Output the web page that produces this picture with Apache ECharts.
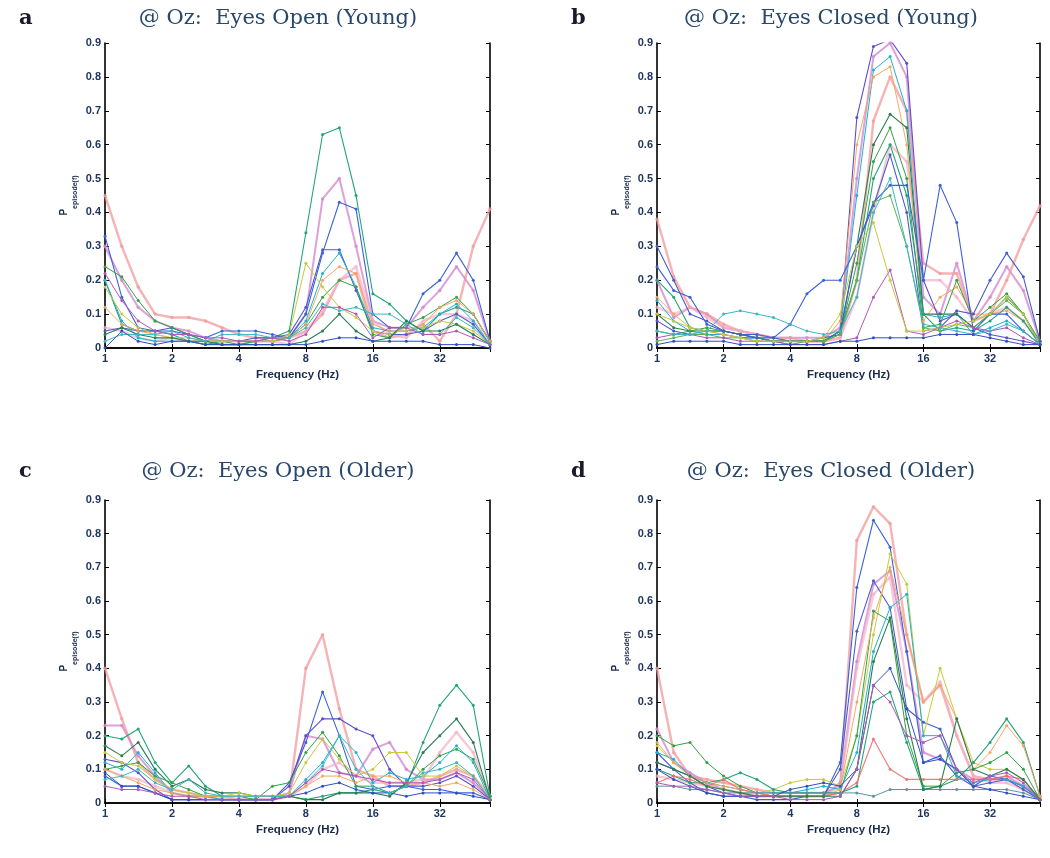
<!DOCTYPE html>
<html><head><meta charset="utf-8">
<script src="https://cdn.jsdelivr.net/npm/echarts@6/dist/echarts.min.js"></script>
<style>html,body{margin:0;background:#fff}#c{width:1050px;height:858px}</style>
</head><body><div id="c"></div>
<script>
// Frequencies (Hz), quarter-octave spacing
const freqHz = [1,1.19,1.41,1.68,2,2.38,2.83,3.36,4,4.76,5.66,6.73,8,9.51,11.31,13.45,16,19.03,22.63,26.91,32,38.05,45.25,53.82];
const xTickLabels = ['1','2','4','8','16','32'];
const yTickLabels = ['0','0.1','0.2','0.3','0.4','0.5','0.6','0.7','0.8','0.9'];
const panelTitles = ['@ Oz:  Eyes Open (Young)','@ Oz:  Eyes Closed (Young)','@ Oz:  Eyes Open (Older)','@ Oz:  Eyes Closed (Older)'];
const panelLetters = ['a','b','c','d'];

// Panel a: Eyes Open (Young)
const eyesOpenYoung = [
 [0.45,0.30,0.18,0.10,0.09,0.09,0.08,0.06,0.04,0.03,0.03,0.03,0.05,0.10,0.20,0.22,0.05,0.03,0.04,0.07,0.02,0.10,0.30,0.41],
 [0.20,0.07,0.05,0.05,0.04,0.02,0.01,0.02,0.02,0.02,0.03,0.05,0.34,0.63,0.65,0.45,0.16,0.13,0.08,0.05,0.10,0.12,0.10,0.02],
 [0.30,0.20,0.12,0.08,0.06,0.05,0.03,0.02,0.02,0.02,0.02,0.03,0.10,0.44,0.50,0.30,0.08,0.06,0.06,0.12,0.17,0.24,0.17,0.02],
 [0.33,0.15,0.06,0.05,0.05,0.04,0.03,0.05,0.05,0.05,0.04,0.03,0.10,0.28,0.43,0.41,0.10,0.06,0.06,0.16,0.20,0.28,0.20,0.02],
 [0.05,0.06,0.05,0.05,0.06,0.04,0.02,0.02,0.02,0.03,0.03,0.04,0.12,0.29,0.29,0.17,0.05,0.04,0.04,0.05,0.08,0.10,0.07,0.01],
 [0.20,0.08,0.03,0.02,0.02,0.02,0.01,0.01,0.01,0.02,0.02,0.03,0.08,0.22,0.28,0.18,0.06,0.05,0.05,0.06,0.10,0.13,0.08,0.01],
 [0.24,0.21,0.14,0.08,0.06,0.04,0.02,0.02,0.01,0.02,0.02,0.03,0.07,0.15,0.20,0.18,0.04,0.03,0.07,0.09,0.12,0.15,0.10,0.02],
 [0.12,0.07,0.05,0.04,0.03,0.03,0.02,0.02,0.02,0.02,0.02,0.03,0.07,0.20,0.24,0.22,0.07,0.05,0.05,0.07,0.12,0.14,0.10,0.02],
 [0.18,0.10,0.06,0.04,0.03,0.02,0.02,0.02,0.02,0.02,0.02,0.04,0.25,0.18,0.12,0.09,0.05,0.04,0.06,0.06,0.08,0.07,0.05,0.01],
 [0.04,0.06,0.04,0.03,0.03,0.02,0.02,0.01,0.01,0.01,0.01,0.01,0.02,0.05,0.10,0.05,0.02,0.03,0.08,0.05,0.05,0.07,0.04,0.01],
 [0.02,0.04,0.04,0.04,0.05,0.03,0.02,0.04,0.04,0.04,0.03,0.03,0.06,0.13,0.11,0.12,0.10,0.10,0.07,0.04,0.04,0.09,0.06,0.01],
 [0.00,0.05,0.02,0.01,0.02,0.02,0.01,0.01,0.01,0.01,0.01,0.01,0.01,0.02,0.03,0.03,0.02,0.02,0.02,0.02,0.01,0.01,0.01,0.00],
 [0.22,0.14,0.08,0.05,0.04,0.04,0.03,0.03,0.02,0.02,0.03,0.02,0.04,0.12,0.12,0.10,0.03,0.06,0.06,0.04,0.04,0.05,0.03,0.01],
 [0.06,0.05,0.03,0.02,0.03,0.02,0.02,0.01,0.01,0.02,0.02,0.01,0.05,0.11,0.20,0.24,0.08,0.04,0.03,0.08,0.10,0.10,0.08,0.02]
];
const eyesOpenYoungColors = ['redT','teal','magT','blue','blue2','cyan','green','orange','yellow','dgreen','cyan2','blue3','mag2','pinkT'];

// Panel b: Eyes Closed (Young)
const eyesClosedYoung = [
 [0.08,0.05,0.04,0.04,0.04,0.03,0.03,0.02,0.02,0.02,0.02,0.05,0.68,0.89,0.91,0.84,0.20,0.08,0.10,0.06,0.04,0.03,0.02,0.01],
 [0.20,0.09,0.12,0.10,0.06,0.05,0.04,0.03,0.03,0.03,0.03,0.06,0.50,0.86,0.90,0.80,0.15,0.10,0.25,0.08,0.15,0.24,0.17,0.02],
 [0.14,0.08,0.05,0.04,0.04,0.03,0.03,0.02,0.02,0.02,0.02,0.05,0.45,0.82,0.86,0.70,0.10,0.09,0.10,0.04,0.06,0.08,0.05,0.01],
 [0.15,0.10,0.06,0.05,0.04,0.03,0.02,0.02,0.01,0.02,0.02,0.08,0.60,0.80,0.83,0.60,0.08,0.15,0.18,0.10,0.10,0.11,0.08,0.01],
 [0.38,0.21,0.12,0.10,0.07,0.05,0.04,0.03,0.03,0.02,0.02,0.03,0.20,0.67,0.80,0.70,0.25,0.22,0.22,0.08,0.10,0.20,0.32,0.42],
 [0.10,0.06,0.05,0.05,0.05,0.04,0.03,0.02,0.02,0.02,0.02,0.05,0.30,0.60,0.69,0.65,0.10,0.10,0.10,0.06,0.10,0.15,0.10,0.01],
 [0.05,0.04,0.05,0.06,0.05,0.04,0.03,0.02,0.02,0.02,0.02,0.04,0.25,0.55,0.65,0.50,0.06,0.07,0.20,0.08,0.12,0.16,0.10,0.02],
 [0.20,0.15,0.06,0.05,0.05,0.04,0.03,0.02,0.02,0.02,0.02,0.05,0.20,0.50,0.60,0.45,0.10,0.05,0.06,0.05,0.08,0.12,0.08,0.01],
 [0.24,0.17,0.15,0.07,0.05,0.04,0.04,0.03,0.07,0.16,0.20,0.20,0.30,0.43,0.48,0.48,0.20,0.48,0.37,0.05,0.10,0.10,0.05,0.01],
 [0.30,0.20,0.10,0.08,0.05,0.04,0.03,0.03,0.02,0.02,0.03,0.04,0.30,0.42,0.57,0.40,0.05,0.06,0.11,0.10,0.20,0.28,0.21,0.02],
 [0.02,0.03,0.04,0.04,0.03,0.03,0.02,0.02,0.01,0.02,0.02,0.04,0.20,0.43,0.45,0.30,0.06,0.05,0.07,0.06,0.10,0.14,0.10,0.01],
 [0.03,0.04,0.04,0.03,0.03,0.02,0.02,0.02,0.01,0.01,0.01,0.02,0.03,0.15,0.23,0.05,0.04,0.06,0.08,0.06,0.05,0.06,0.03,0.01],
 [0.10,0.08,0.06,0.05,0.04,0.03,0.02,0.02,0.02,0.02,0.03,0.10,0.30,0.37,0.20,0.05,0.05,0.06,0.07,0.08,0.10,0.15,0.10,0.01],
 [0.05,0.04,0.04,0.05,0.10,0.11,0.10,0.09,0.07,0.05,0.04,0.05,0.15,0.40,0.50,0.30,0.07,0.06,0.05,0.04,0.05,0.07,0.05,0.01],
 [0.01,0.02,0.02,0.02,0.02,0.01,0.01,0.01,0.01,0.01,0.01,0.02,0.02,0.03,0.03,0.03,0.03,0.04,0.04,0.04,0.03,0.02,0.01,0.01],
 [0.12,0.10,0.12,0.09,0.06,0.05,0.04,0.03,0.02,0.02,0.02,0.03,0.15,0.40,0.60,0.55,0.20,0.20,0.15,0.08,0.10,0.12,0.08,0.02]
];
const eyesClosedYoungColors = ['purple','magT','cyan','orange','redT','dgreen','green','teal','blue','blue2','green2','mag2','yellow','cyan2','blue3','pinkT'];

// Panel c: Eyes Open (Older)
const eyesOpenOlder = [
 [0.40,0.25,0.12,0.07,0.04,0.03,0.02,0.02,0.01,0.01,0.01,0.02,0.40,0.50,0.28,0.10,0.08,0.05,0.05,0.06,0.08,0.10,0.08,0.02],
 [0.08,0.05,0.05,0.03,0.01,0.01,0.01,0.01,0.01,0.01,0.01,0.06,0.18,0.33,0.20,0.05,0.04,0.05,0.05,0.04,0.04,0.03,0.03,0.01],
 [0.13,0.12,0.09,0.04,0.01,0.01,0.01,0.01,0.01,0.01,0.01,0.05,0.20,0.25,0.25,0.22,0.20,0.10,0.05,0.05,0.06,0.08,0.05,0.01],
 [0.20,0.19,0.22,0.12,0.06,0.11,0.05,0.02,0.02,0.02,0.02,0.02,0.01,0.02,0.03,0.03,0.04,0.03,0.05,0.18,0.29,0.35,0.29,0.02],
 [0.17,0.14,0.18,0.10,0.05,0.07,0.04,0.03,0.03,0.02,0.02,0.02,0.01,0.01,0.03,0.03,0.03,0.02,0.06,0.15,0.20,0.25,0.18,0.01],
 [0.10,0.11,0.12,0.08,0.06,0.04,0.02,0.02,0.02,0.01,0.05,0.06,0.15,0.21,0.14,0.05,0.05,0.03,0.05,0.10,0.14,0.16,0.13,0.02],
 [0.12,0.10,0.15,0.09,0.03,0.02,0.02,0.01,0.01,0.01,0.01,0.02,0.07,0.12,0.20,0.15,0.06,0.09,0.07,0.08,0.12,0.17,0.12,0.01],
 [0.23,0.23,0.14,0.08,0.03,0.02,0.02,0.01,0.01,0.01,0.01,0.03,0.20,0.19,0.09,0.08,0.16,0.18,0.10,0.07,0.07,0.09,0.06,0.01],
 [0.15,0.12,0.11,0.07,0.04,0.03,0.02,0.02,0.03,0.02,0.02,0.03,0.12,0.19,0.13,0.08,0.10,0.15,0.15,0.08,0.08,0.11,0.08,0.01],
 [0.10,0.08,0.07,0.05,0.03,0.02,0.02,0.01,0.01,0.01,0.01,0.02,0.05,0.10,0.12,0.08,0.06,0.06,0.06,0.07,0.15,0.21,0.15,0.02],
 [0.10,0.08,0.06,0.04,0.03,0.02,0.02,0.02,0.02,0.02,0.02,0.02,0.05,0.08,0.08,0.06,0.08,0.08,0.06,0.06,0.05,0.06,0.04,0.01],
 [0.09,0.05,0.05,0.03,0.01,0.01,0.01,0.01,0.01,0.01,0.01,0.02,0.03,0.05,0.06,0.04,0.03,0.03,0.02,0.03,0.03,0.03,0.02,0.01],
 [0.07,0.08,0.10,0.06,0.04,0.07,0.03,0.02,0.02,0.02,0.02,0.02,0.06,0.11,0.20,0.10,0.05,0.03,0.05,0.09,0.10,0.12,0.08,0.01],
 [0.05,0.04,0.04,0.03,0.02,0.02,0.01,0.01,0.01,0.01,0.01,0.02,0.06,0.10,0.09,0.08,0.07,0.06,0.06,0.06,0.07,0.09,0.07,0.01]
];
const eyesOpenOlderColors = ['redT','blue','purple','teal','dgreen','green','cyan','magT','yellow','pinkT','orange','blue3','cyan2','mag2'];

// Panel d: Eyes Closed (Older)
const eyesClosedOlder = [
 [0.40,0.15,0.08,0.07,0.06,0.05,0.04,0.03,0.03,0.03,0.03,0.05,0.78,0.88,0.83,0.50,0.30,0.35,0.20,0.08,0.07,0.07,0.05,0.02],
 [0.15,0.10,0.08,0.05,0.03,0.02,0.02,0.02,0.02,0.02,0.02,0.12,0.64,0.84,0.76,0.45,0.12,0.14,0.08,0.05,0.06,0.07,0.05,0.01],
 [0.12,0.10,0.06,0.03,0.02,0.02,0.01,0.01,0.01,0.02,0.02,0.10,0.51,0.66,0.58,0.28,0.24,0.22,0.10,0.05,0.08,0.07,0.04,0.01],
 [0.22,0.12,0.09,0.06,0.04,0.03,0.02,0.02,0.02,0.02,0.02,0.06,0.42,0.65,0.69,0.45,0.15,0.13,0.10,0.07,0.07,0.08,0.05,0.01],
 [0.17,0.12,0.08,0.05,0.04,0.03,0.03,0.04,0.06,0.07,0.07,0.05,0.20,0.50,0.74,0.65,0.20,0.40,0.25,0.12,0.10,0.10,0.07,0.01],
 [0.20,0.17,0.18,0.12,0.08,0.05,0.03,0.02,0.02,0.02,0.02,0.03,0.20,0.57,0.54,0.20,0.05,0.05,0.09,0.10,0.12,0.15,0.10,0.01],
 [0.15,0.13,0.08,0.06,0.05,0.04,0.03,0.03,0.03,0.04,0.05,0.04,0.15,0.45,0.58,0.62,0.20,0.20,0.08,0.06,0.07,0.07,0.05,0.01],
 [0.10,0.08,0.06,0.06,0.07,0.09,0.07,0.04,0.03,0.03,0.03,0.03,0.05,0.30,0.33,0.18,0.04,0.05,0.07,0.12,0.18,0.25,0.18,0.02],
 [0.18,0.12,0.08,0.06,0.05,0.04,0.03,0.02,0.02,0.02,0.02,0.04,0.30,0.55,0.70,0.50,0.30,0.35,0.25,0.10,0.15,0.23,0.17,0.02],
 [0.08,0.07,0.06,0.05,0.04,0.03,0.02,0.02,0.02,0.02,0.02,0.05,0.40,0.62,0.67,0.35,0.30,0.36,0.20,0.08,0.06,0.06,0.04,0.01],
 [0.06,0.08,0.07,0.05,0.07,0.04,0.03,0.02,0.02,0.02,0.02,0.03,0.06,0.19,0.10,0.07,0.07,0.07,0.07,0.07,0.07,0.08,0.07,0.01],
 [0.05,0.05,0.04,0.04,0.03,0.03,0.03,0.03,0.03,0.03,0.03,0.03,0.03,0.02,0.04,0.04,0.04,0.04,0.04,0.04,0.04,0.04,0.03,0.01],
 [0.10,0.07,0.05,0.03,0.02,0.02,0.02,0.02,0.04,0.05,0.06,0.05,0.10,0.35,0.40,0.28,0.12,0.13,0.10,0.05,0.04,0.03,0.02,0.01],
 [0.12,0.10,0.08,0.05,0.04,0.03,0.02,0.02,0.02,0.02,0.02,0.02,0.10,0.42,0.55,0.25,0.04,0.05,0.25,0.10,0.08,0.10,0.07,0.01],
 [0.06,0.05,0.05,0.04,0.03,0.02,0.02,0.02,0.01,0.01,0.01,0.02,0.10,0.35,0.30,0.20,0.18,0.20,0.10,0.06,0.08,0.09,0.06,0.01]
];
const eyesClosedOlderColors = ['redT','blue','blue2','magT','yellow','green','cyan','teal','orange','pinkT','red','gray','blue3','dgreen','mag2'];

// Styles
const palette = {
  redT:  {c:'#f39a9a', w:2.4, o:0.75},
  pinkT: {c:'#f2b0c8', w:2.4, o:0.7},
  magT:  {c:'#d58ad0', w:2.0, o:0.8},
  red:   {c:'#ee7070', w:1.2, o:0.9},
  teal:  {c:'#22a57a', w:1.1, o:1},
  blue:  {c:'#3a62d8', w:1.1, o:1},
  blue2: {c:'#4a5cc8', w:1.1, o:1},
  blue3: {c:'#3050c0', w:1, o:1},
  purple:{c:'#5a4ed0', w:1.1, o:1},
  cyan:  {c:'#1fb0d6', w:1, o:1},
  cyan2: {c:'#3ab8c4', w:1, o:1},
  green: {c:'#32a243', w:1, o:1},
  green2:{c:'#5ab452', w:1, o:1},
  dgreen:{c:'#2a7d55', w:1.1, o:1},
  orange:{c:'#f2a45c', w:1, o:0.95},
  yellow:{c:'#c9c93e', w:1, o:1},
  mag2:  {c:'#b058b8', w:1, o:1},
  gray:  {c:'#5a94a4', w:1, o:1}
};

const panels = [
  {data: eyesOpenYoung,   cols: eyesOpenYoungColors,   grid:{left:105, top:43,  width:385, height:305}},
  {data: eyesClosedYoung, cols: eyesClosedYoungColors, grid:{left:657, top:43,  width:383, height:305}},
  {data: eyesOpenOlder,   cols: eyesOpenOlderColors,   grid:{left:105, top:500, width:385, height:303}},
  {data: eyesClosedOlder, cols: eyesClosedOlderColors, grid:{left:657, top:500, width:383, height:303}}
];
const titlePos = [{x:273, y:3},{x:826, y:3},{x:273, y:456},{x:826, y:456}];
const letterPos = [{x:14, y:3},{x:566, y:3},{x:14, y:456},{x:566, y:456}];

const tickColor = '#1e3660';
const sans = 'Liberation Sans, Arial, sans-serif';
const grids = [], xAxes = [], yAxes = [], series = [], titles = [];

panels.forEach((p, i) => {
  grids.push(Object.assign({containLabel:false}, p.grid));
  const xBase = {
    type:'log', logBase:2, gridIndex:i, min:freqHz[0], max:freqHz[freqHz.length-1],
    axisLine:{show:true, lineStyle:{color:'#000', width:1.6}},
    axisTick:{show:true, inside:true, length:4, lineStyle:{color:'#000', width:1}},
    splitLine:{show:false}, minorTick:{show:false}
  };
  xAxes.push(Object.assign({}, xBase, {
    position:'bottom',
    axisLabel:{show:true, showMaxLabel:false, fontSize:11, fontWeight:'bold', color:tickColor, margin:5,
      fontFamily:sans,
      formatter: v => { const s = String(Math.round(v)); return xTickLabels.indexOf(s) >= 0 ? s : ''; }},
    name:'Frequency (Hz)', nameLocation:'middle', nameGap:21,
    nameTextStyle:{fontSize:11.5, fontWeight:'bold', color:'#1a2a4a', fontFamily:sans}
  }));
  xAxes.push(Object.assign({}, xBase, {position:'top', axisLabel:{show:false}}));
  const yBase = {
    type:'value', gridIndex:i, min:0, max:0.9, interval:0.1,
    axisLine:{show:true, lineStyle:{color:'#000', width:1.6}},
    axisTick:{show:true, inside:true, length:4, lineStyle:{color:'#000', width:1}},
    splitLine:{show:false}
  };
  yAxes.push(Object.assign({}, yBase, {
    position:'left',
    axisLabel:{show:true, fontSize:11, fontWeight:'bold', color:tickColor, margin:4,
      fontFamily:sans,
      formatter: v => yTickLabels[Math.round(v*10)]},
    name:'{p|P}{s|episode(f)}', nameLocation:'middle', nameGap:26, nameRotate:90,
    nameTextStyle:{color:'#1a2a4a', fontFamily:sans, fontWeight:'bold',
      rich:{p:{fontSize:10, fontWeight:'bold', lineHeight:12, verticalAlign:'top', color:'#1a2a4a', fontFamily:sans},
            s:{fontSize:7, fontWeight:'bold', lineHeight:20, verticalAlign:'bottom', color:'#1a2a4a', fontFamily:sans}}}
  }));
  yAxes.push(Object.assign({}, yBase, {position:'right', axisLabel:{show:false}}));

  p.data.forEach((vals, j) => {
    const st = palette[p.cols[j]];
    series.push({
      type:'line', xAxisIndex:i*2, yAxisIndex:i*2,
      data: freqHz.map((f, k) => [f, vals[k]]),
      symbol:'circle', symbolSize: st.w > 1.5 ? 3.5 : 3, showSymbol:true,
      lineStyle:{color:st.c, width:st.w, opacity:st.o},
      itemStyle:{color:st.c, opacity:st.o},
      z: st.w > 1.5 ? 1 : 2,
      silent:true, animation:false
    });
  });

  titles.push({
    text: panelTitles[i], left: titlePos[i].x, top: titlePos[i].y, textAlign:'center',
    textStyle:{fontFamily:'DejaVu Serif, Liberation Serif, serif', fontSize:21, fontWeight:'normal', color:'#27486c'}
  });
  titles.push({
    text: panelLetters[i], left: letterPos[i].x, top: letterPos[i].y,
    textStyle:{fontFamily:'DejaVu Serif, Liberation Serif, serif', fontSize:21, fontWeight:'bold', color:'#1a1a2a'}
  });
});

const chart = echarts.init(document.getElementById('c'), null, {renderer:'canvas'});
chart.setOption({
  backgroundColor:'#ffffff',
  animation:false,
  title: titles,
  grid: grids,
  xAxis: xAxes,
  yAxis: yAxes,
  series: series
});
</script></body></html>
